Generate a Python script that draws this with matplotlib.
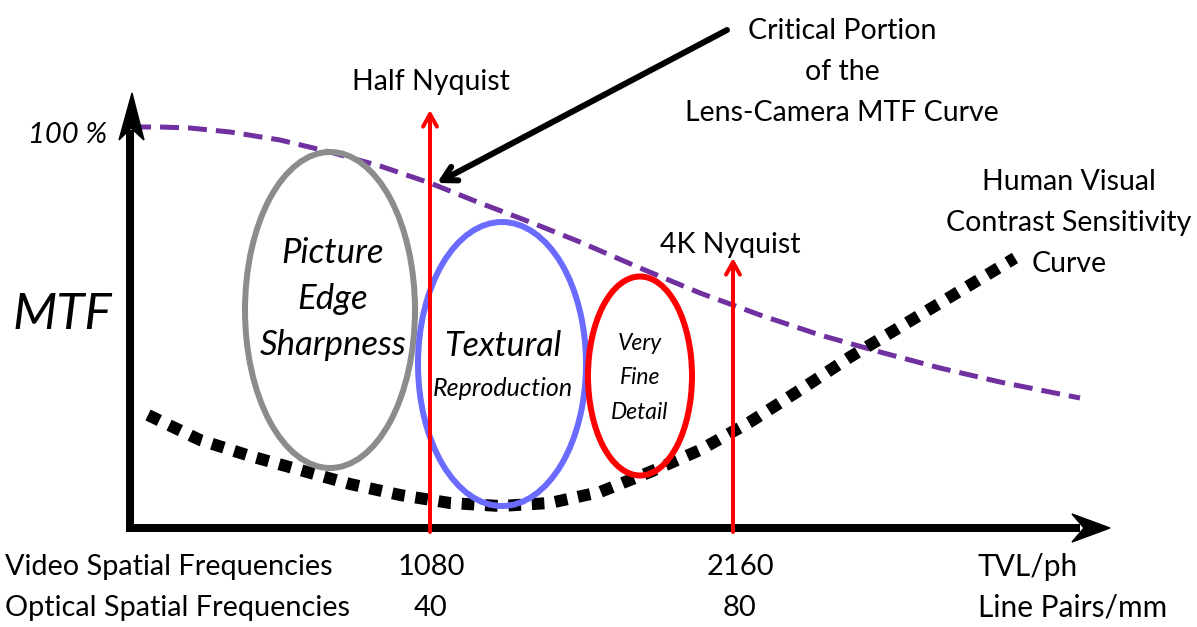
import matplotlib
matplotlib.use("Agg")
import matplotlib.pyplot as plt
from matplotlib.patches import Ellipse, Polygon

plt.rcParams['font.family'] = ['Lato', 'DejaVu Sans']

# ---- data (pixel coordinates, y downward) ----
mtf_x = [132, 160, 190, 230, 280, 330, 380, 430, 480, 530, 580, 640, 700, 760, 820, 880, 940, 1000, 1080]
mtf_y = [127, 127, 128, 132, 140, 152, 166, 183, 203, 222, 242, 268, 293, 315, 335, 352, 368, 382, 398]

csf_x = [148, 200, 250, 300, 350, 400, 450, 500, 550, 600, 650, 700, 750, 800, 850, 900, 950, 1015]
csf_y = [415, 440, 456, 470, 484, 495, 503, 506, 503, 492, 472, 450, 422, 390, 357, 327, 297, 258]

tick_top = ["1080", "2160"]
tick_bot = ["40", "80"]
tick_x = [431, 740]
row_labels = ["Video Spatial Frequencies", "Optical Spatial Frequencies"]
unit_labels = ["TVL/ph", "Line Pairs/mm"]
nyquist_labels = ["Half Nyquist", "4K Nyquist"]
nyquist_x = [430, 733]
nyquist_top = [110, 258]

W, H = 1197, 627
fig = plt.figure(figsize=(W / 100, H / 100), dpi=100)
ax = fig.add_axes([0, 0, 1, 1])
ax.set_xlim(0, W)
ax.set_ylim(H, 0)
ax.axis('off')

def px(v):
    return v * 0.72

# axes
ax.plot([130, 130], [532, 130], color='black', lw=px(8), solid_capstyle='butt', zorder=3)
ax.plot([126, 1080], [528, 528], color='black', lw=px(8), solid_capstyle='butt', zorder=3)
ax.add_patch(Polygon([[132, 93], [119, 140], [131, 128], [144, 140]], closed=True,
                     color='black', zorder=4))
ax.add_patch(Polygon([[1110, 528], [1072, 514], [1084, 528], [1072, 542]], closed=True,
                     color='black', zorder=4))

# MTF dashed purple curve
ax.plot(mtf_x, mtf_y, color='#7030A0', lw=px(5), dashes=(3.8, 1.8), dash_capstyle='butt', zorder=2)

# Human visual CSF thick dotted curve
ax.plot(csf_x, csf_y, color='black', lw=px(12), dashes=(1.05, 0.9), dash_capstyle='butt', zorder=2)

# ellipses
ax.add_patch(Ellipse((330, 310), 170, 316, fill=False, ec='#8c8c8c', lw=px(6), zorder=2))
ax.add_patch(Ellipse((502, 364), 168, 284, fill=False, ec='#6b6bff', lw=px(6), zorder=2))
ax.add_patch(Ellipse((640, 376), 104, 199, fill=False, ec='#ff0000', lw=px(6), zorder=2))

# Nyquist arrows
for xv, yt in zip(nyquist_x, nyquist_top):
    ax.annotate('', xy=(xv, yt), xytext=(xv, 532),
                arrowprops=dict(arrowstyle='->,head_length=0.9,head_width=0.5',
                                color='#ff0000', lw=px(4), shrinkA=0, shrinkB=0), zorder=3)
ax.text(431, 82, nyquist_labels[0], ha='center', va='center', fontsize=20.5, color='black')
ax.text(730, 245, nyquist_labels[1], ha='center', va='center', fontsize=20.5, color='black')

# Critical portion arrow
ax.annotate('', xy=(437, 183), xytext=(727, 30),
            arrowprops=dict(arrowstyle='->,head_length=1.0,head_width=0.55',
                            color='black', lw=px(6), shrinkA=0, shrinkB=0), zorder=4)
ax.text(842, 72, "Critical Portion\nof the\nLens-Camera MTF Curve", ha='center', va='center',
        fontsize=20.5, linespacing=1.73)
ax.text(1069, 223, "Human Visual\nContrast Sensitivity\nCurve", ha='center', va='center',
        fontsize=20.5, linespacing=1.73)

# axis labels
ax.text(68, 135, "100 %", ha='center', va='center', fontsize=21, style='italic')
ax.text(62, 315, "MTF", ha='center', va='center', fontsize=37, style='italic')

# ellipse texts
ax.text(333, 299, "Picture\nEdge\nSharpness", ha='center', va='center', fontsize=25,
        style='italic', linespacing=1.55)
ax.text(503, 346, "Textural", ha='center', va='center', fontsize=24.5, style='italic')
ax.text(503, 388, "Reproduction", ha='center', va='center', fontsize=18, style='italic')
ax.text(640, 378, "Very\nFine\nDetail", ha='center', va='center', fontsize=16.5,
        style='italic', linespacing=1.8)

# bottom labels
for i, lab in enumerate(row_labels):
    ax.text(5, 567 + 41 * i, lab, ha='left', va='center', fontsize=20.8)
for xv, a, b in zip(tick_x, tick_top, tick_bot):
    ax.text(xv, 567, a, ha='center', va='center', fontsize=21)
    ax.text(xv, 608, b, ha='center', va='center', fontsize=21)
for i, lab in enumerate(unit_labels):
    ax.text(978, 567 + 41 * i, lab, ha='left', va='center', fontsize=21.5)

fig.savefig("out.png", dpi=100)
